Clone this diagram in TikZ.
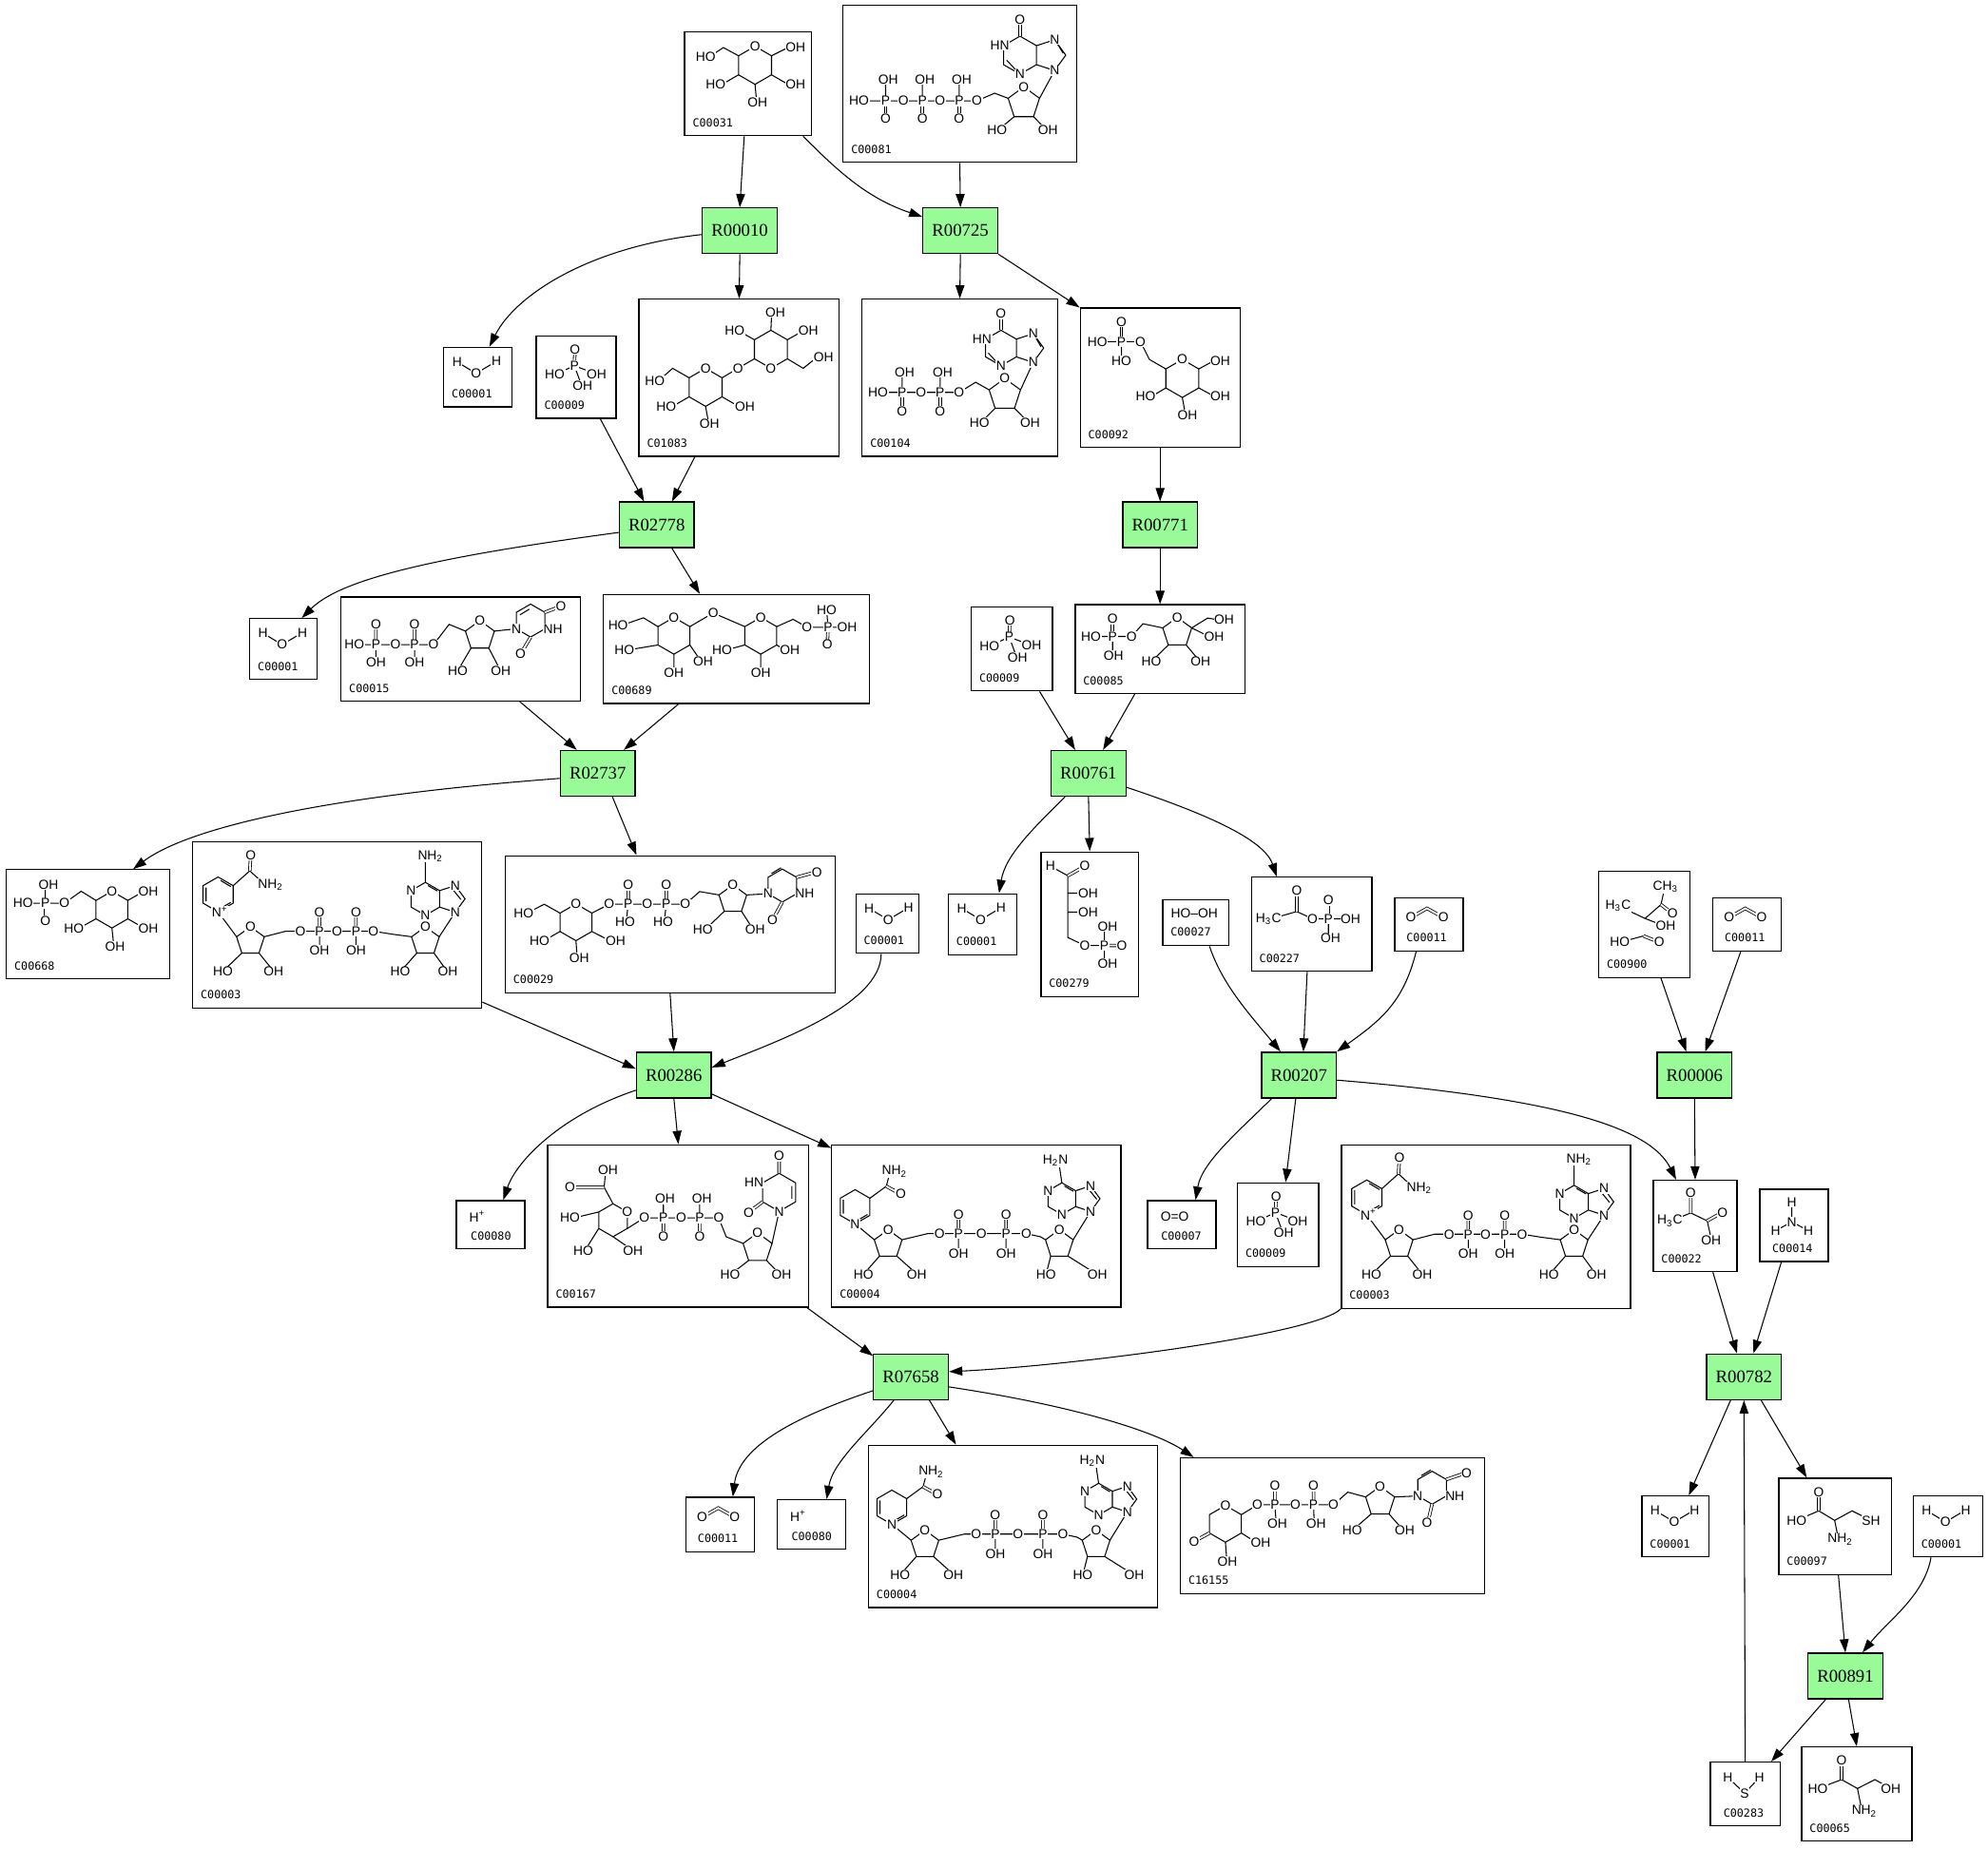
\documentclass[tikz,border=0pt]{standalone}
\usepackage{fontspec}
\setmainfont{Liberation Serif}
\newfontfamily\atomfont{Liberation Sans}
\newfontfamily\idfont{DejaVu Sans Mono}
\usetikzlibrary{arrows.meta}
\definecolor{rgreen}{RGB}{152,251,152}
\tikzset{
  rxn/.style={draw=black, line width=0.55pt, fill=rgreen, minimum width=11.8mm, minimum height=7.2mm, inner sep=0pt, font=\fontsize{8}{9}\selectfont},
  cpd/.style 2 args={draw=black, line width=0.55pt, fill=white, minimum width=#1*0.2mm, minimum height=#2*0.2mm, inner sep=0pt},
  cid/.style={anchor=south west, font=\idfont\fontsize{5}{5}\selectfont, inner sep=0pt, xshift=1.3mm, yshift=1.4mm},
  arr/.style={-{Triangle[length=2.1mm,width=1.4mm]}, line width=0.45pt},
  bond/.style={line width=0.45pt},
  dbl/.style={double, double distance=0.8pt, line width=0.35pt},
  atm/.style={font=\atomfont\fontsize{5.9}{6}\selectfont, inner sep=0.3pt, fill=white},
}
% ring shapes, in box units
\newcommand{\hexa}[3]{\draw[bond] (#1,#2) +(30:#3) -- +(90:#3) -- +(150:#3) -- +(210:#3) -- +(270:#3) -- +(330:#3) -- cycle;}
\newcommand{\penta}[3]{\draw[bond] (#1,#2) +(270:#3) -- +(342:#3) -- +(54:#3) -- +(126:#3) -- +(198:#3) -- cycle;}
\newcommand{\imid}[3]{\draw[bond] (#1,#2) +(0.866*#3,-0.5*#3) -- +(1.817*#3,-0.809*#3) -- +(2.405*#3,0) -- +(1.817*#3,0.809*#3) -- +(0.866*#3,0.5*#3);}
\newcommand{\atm}[3]{\node[atm] at (#1,#2) {#3};}
% small molecules
\newcommand{\wat}[1]{\begin{scope}[shift={(#1.north west)}]
  \draw[bond] (11,12) -- (26,21) -- (42,11.5);
  \atm{11}{12}{H} \atm{26}{21}{O} \atm{42}{11.5}{H}
\end{scope}}
\newcommand{\phos}[1]{\begin{scope}[shift={(#1.north west)}]
  \draw[dbl] (31,11) -- (30.5,24);
  \draw[bond] (15,31) -- (30.5,24) -- (48,30.5) (30.5,24) -- (36,39);
  \atm{31}{11}{O} \atm{30.5}{24}{P} \atm{15}{31}{HO} \atm{48}{30.5}{OH} \atm{37}{40}{OH}
\end{scope}}
\newcommand{\cdo}[1]{\begin{scope}[shift={(#1.north west)}]
  \draw[dbl] (13.25,16.25) -- (26,9) -- (39,16.25);
  \atm{13.25}{16.25}{O} \atm{39}{16.25}{O}
\end{scope}}
\newcommand{\hpl}[1]{\begin{scope}[shift={(#1.north west)}]
  \atm{17}{13}{H\textsuperscript{+}}
\end{scope}}
% NAD+ and NADH
\newcommand{\nadp}[1]{\begin{scope}[shift={(#1.north west)}]
  \hexa{20.5}{42}{13.75} \penta{46}{79}{11.5} \penta{184}{79}{11.5}
  \hexa{184}{45.5}{13} \imid{184}{45.5}{13}
  \draw[bond] (11,36.5) -- (11,47.5) (22.5,31) -- (30.5,35.8) (22.5,53) -- (30.5,48.3) (186,35) -- (193.5,39.3) (205.5,38) -- (212,46);
  \draw[bond] (32.4,35.1) -- (45.5,23.4) -- (57,34) (20.5,55.75) -- (35.1,75.4) (39.2,88.3) -- (26,101) (52.8,88.3) -- (63,101)
    (56.9,75.4) -- (74,71) -- (143,71) -- (158,73.4) -- (173.1,75.4) (100.5,71) -- (100.5,85) (129.25,71) -- (129.25,85)
    (177.2,88.3) -- (166,101) (190.8,88.3) -- (200,101) (194.9,75.4) -- (207.6,56) (184,32.5) -- (184,16);
  \draw[dbl] (45.5,23.4) -- (46.25,11) (100.5,71) -- (100.5,56) (129.25,71) -- (129.25,56);
  \atm{46.25}{11}{O} \atm{62}{34.5}{NH\textsubscript{2}} \atm{22}{55.75}{N\textsuperscript{+}} \atm{46}{67.5}{O}
  \atm{24.25}{103}{HO} \atm{64.25}{103}{OH}
  \atm{85.5}{71}{O} \atm{100.5}{71}{P} \atm{114.25}{71}{O} \atm{129.25}{71}{P} \atm{143}{71}{O}
  \atm{100.5}{56}{O} \atm{129.25}{56}{O} \atm{100.5}{86}{OH} \atm{129.25}{86}{OH}
  \atm{184}{67.5}{O} \atm{164.25}{103}{HO} \atm{201.75}{103}{OH}
  \atm{172.7}{39}{N} \atm{184}{58.5}{N} \atm{207.6}{35}{N} \atm{207.6}{56}{N} \atm{188}{12}{NH\textsubscript{2}}
\end{scope}}
\newcommand{\nadh}[1]{\begin{scope}[shift={(#1.north west)}]
  \hexa{18.9}{49.4}{13.5} \penta{45}{79}{11.5} \penta{180}{79}{11.5}
  \hexa{182}{43}{12.5} \imid{182}{43}{12.5}
  \draw[bond] (9.6,44) -- (9.6,54.8) (21,60) -- (28.7,55.5) (184,33) -- (191,37.2) (203.5,36) -- (209.5,43.5);
  \draw[bond] (30.6,42.65) -- (43.5,33.2) -- (46,24) (18.9,62.9) -- (34.1,75.4) (38.2,88.3) -- (27,101) (51.8,88.3) -- (66,101)
    (55.9,75.4) -- (76,70.6) -- (153.9,70.6) -- (165,73) -- (169.1,75.4) (100.5,70.6) -- (100.5,85.6) (138,70.6) -- (138,85.6)
    (173.2,88.3) -- (170,101) (186.8,88.3) -- (207,101) (190.9,75.4) -- (204.7,53.1) (182,30.5) -- (180,17);
  \draw[dbl] (43.5,33.2) -- (54.9,39.4) (100.5,70.6) -- (100.5,55.6) (138,70.6) -- (138,55.6);
  \atm{50}{21.5}{NH\textsubscript{2}} \atm{54.9}{39.4}{O} \atm{18.9}{62.9}{N} \atm{45}{67.5}{O}
  \atm{25.5}{103}{HO} \atm{67.5}{103}{OH}
  \atm{85.5}{70.6}{O} \atm{100.5}{70.6}{P} \atm{118.5}{70.6}{O} \atm{138}{70.6}{P} \atm{153.9}{70.6}{O}
  \atm{100.5}{55.6}{O} \atm{138}{55.6}{O} \atm{100.5}{86}{OH} \atm{138}{86}{OH}
  \atm{180}{67.5}{O} \atm{169.5}{103}{HO} \atm{210}{103}{OH}
  \atm{171.2}{36.75}{N} \atm{182}{55.5}{N} \atm{204.7}{32.9}{N} \atm{204.7}{53.1}{N} \atm{177}{13}{H\textsubscript{2}N}
\end{scope}}

\begin{document}
\begin{tikzpicture}[x=0.2mm, y=-0.2mm]
  \useasboundingbox (0,0) rectangle (1568,1458);
  % reactions
  \node[rxn] (r010) at (583.5,182) {R00010};
  \node[rxn] (r725) at (757.5,182) {R00725};
  \node[rxn] (r2778) at (518,414) {R02778};
  \node[rxn] (r771) at (915,414) {R00771};
  \node[rxn] (r2737) at (471.5,610) {R02737};
  \node[rxn] (r761) at (858.5,610) {R00761};
  \node[rxn] (r286) at (531.5,848) {R00286};
  \node[rxn] (r207) at (1024.5,848) {R00207};
  \node[rxn] (r006) at (1336.5,848) {R00006};
  \node[rxn] (r7658) at (718.5,1086) {R07658};
  \node[rxn] (r782) at (1375.5,1086) {R00782};
  \node[rxn] (r891) at (1455.5,1322) {R00891};
  % compounds
  \node[cpd={100}{82}, label={[cid]south west:C00031}] (c031) at (590,66) {};
  \node[cpd={184}{124}, label={[cid]south west:C00081}] (c081) at (757,66) {};
  \node[cpd={54}{47}, label={[cid]south west:C00001}] (h2o1) at (377,297.5) {};
  \node[cpd={63}{65}, label={[cid]south west:C00009}] (pi1) at (454.5,297.5) {};
  \node[cpd={158}{124}, label={[cid]south west:C01083}] (c1083) at (583,298) {};
  \node[cpd={154}{124}, label={[cid]south west:C00104}] (c104) at (757,298) {};
  \node[cpd={126}{110}, label={[cid]south west:C00092}] (c092) at (915,298) {};
  \node[cpd={53}{48}, label={[cid]south west:C00001}] (h2o2) at (223.5,512) {};
  \node[cpd={189}{82}, label={[cid]south west:C00015}] (c015) at (363.5,512) {};
  \node[cpd={210}{86}, label={[cid]south west:C00689}] (c689) at (581,512) {};
  \node[cpd={64}{66}, label={[cid]south west:C00009}] (pi2) at (798,512) {};
  \node[cpd={134}{70}, label={[cid]south west:C00085}] (c085) at (915,512) {};
  \node[cpd={129}{86}, label={[cid]south west:C00668}] (c668) at (69.5,729) {};
  \node[cpd={228}{131}, label={[cid]south west:C00003}] (nad1) at (266,729.5) {};
  \node[cpd={260}{108}, label={[cid]south west:C00029}] (c029) at (528.5,729) {};
  \node[cpd={50}{47}, label={[cid]south west:C00001}] (h2o3) at (700,728.5) {};
  \node[cpd={54}{48}, label={[cid]south west:C00001}] (h2o4) at (775,729) {};
  \node[cpd={77}{114}, label={[cid]south west:C00279}] (c279) at (859.5,729) {};
  \node[cpd={52}{36}, label={[cid,yshift=0.2mm]south west:C00027}] (c027) at (943,728) {};
  \node[cpd={95}{74}, label={[cid]south west:C00227}] (c227) at (1034.5,729) {};
  \node[cpd={54}{42}, label={[cid,xshift=0.6mm]south west:C00011}] (co1) at (1127,729) {};
  \node[cpd={72}{84}, label={[cid]south west:C00900}] (c900) at (1297,729) {};
  \node[cpd={54}{42}, label={[cid,xshift=0.6mm]south west:C00011}] (co2) at (1378,729) {};
  \node[cpd={54}{38}, label={[cid,xshift=1mm]south west:C00080}] (hp1) at (387,966) {};
  \node[cpd={206}{128}, label={[cid]south west:C00167}] (c167) at (535,967) {};
  \node[cpd={228}{128}, label={[cid]south west:C00004}] (nadh1) at (770,967) {};
  \node[cpd={54}{38}, label={[cid,xshift=0.9mm]south west:C00007}] (o2) at (932,966) {};
  \node[cpd={64}{66}, label={[cid]south west:C00009}] (pi3) at (1008,966) {};
  \node[cpd={228}{129}, label={[cid]south west:C00003}] (nad2) at (1172,967.5) {};
  \node[cpd={66}{72}, label={[cid]south west:C00022}] (c022) at (1337,967) {};
  \node[cpd={54}{57}, label={[cid,xshift=0.7mm]south west:C00014}] (nh3) at (1415,966.5) {};
  \node[cpd={54}{43}, label={[cid,xshift=0.6mm]south west:C00011}] (co3) at (568,1202.5) {};
  \node[cpd={54}{39}, label={[cid,xshift=1mm]south west:C00080}] (hp2) at (640,1202.5) {};
  \node[cpd={228}{128}, label={[cid]south west:C00004}] (nadh2) at (799,1204) {};
  \node[cpd={240}{107}, label={[cid]south west:C16155}] (c16155) at (1051,1203.5) {};
  \node[cpd={53}{48}, label={[cid]south west:C00001}] (h2o5) at (1321.5,1204) {};
  \node[cpd={89}{76}, label={[cid]south west:C00097}] (c097) at (1447.5,1204) {};
  \node[cpd={55}{48}, label={[cid]south west:C00001}] (h2o6) at (1536.5,1204) {};
  \node[cpd={55}{50}, label={[cid,xshift=0.8mm]south west:C00283}] (h2s) at (1376.5,1415) {};
  \node[cpd={87}{74}, label={[cid]south west:C00065}] (c065) at (1464.5,1415) {};

  % structures
  \wat{h2o1} \wat{h2o2} \wat{h2o3} \wat{h2o4} \wat{h2o5} \wat{h2o6}
  \phos{pi1} \phos{pi2} \phos{pi3}
  \cdo{co1} \cdo{co2} \cdo{co3}
  \hpl{hp1} \hpl{hp2}
  \nadp{nad1} \nadp{nad2}
  \nadh{nadh1} \nadh{nadh2}
  \begin{scope}[shift={(c031.north west)}]
    \hexa{56}{27}{15}
    \draw[bond] (43,19.5) -- (31,13) -- (22,19) (69,19.5) -- (82,13) (69,34.5) -- (82,42) (43,34.5) -- (30,42) (56,42) -- (57,53);
    \atm{56}{12}{O} \atm{17}{20}{HO} \atm{88}{13}{OH} \atm{88}{42}{OH} \atm{25}{42}{HO} \atm{58}{56}{OH}
  \end{scope}
  \begin{scope}[shift={(c081.north west)}]
    \penta{143}{78}{13} \hexa{140}{40}{15} \imid{140}{40}{15}
    \draw[bond] (14,76) -- (106,76) -- (120,70) -- (130.6,74) (34,76) -- (34,60) (63,76) -- (63,60) (92,76) -- (92,60)
      (135.4,88.5) -- (124,98) (150.6,88.5) -- (160,98) (155.4,74) -- (167.3,52.1) (129.5,44) -- (137,52) (169.5,31) -- (174,38.5);
    \draw[dbl] (34,76) -- (34,90) (63,76) -- (63,90) (92,76) -- (92,90) (140,25) -- (140,12);
    \atm{13}{76}{HO} \atm{34}{76}{P} \atm{48}{76}{O} \atm{63}{76}{P} \atm{77}{76}{O} \atm{92}{76}{P} \atm{106}{76}{O}
    \atm{36}{59}{OH} \atm{65}{59}{OH} \atm{94}{59}{OH} \atm{34}{90}{O} \atm{63}{90}{O} \atm{92}{90}{O}
    \atm{143}{65}{O} \atm{122}{99}{HO} \atm{162}{99}{OH}
    \atm{140}{12}{O} \atm{124}{32.5}{HN} \atm{140}{55}{N} \atm{167.3}{27.9}{N} \atm{167.3}{52.1}{N}
  \end{scope}
  \begin{scope}[shift={(c1083.north west)}]
    \hexa{53}{70}{15} \hexa{104.5}{40}{15}
    \draw[bond] (40,62.5) -- (27,55) -- (18,63) (40,77.5) -- (27,85) (66,77.5) -- (79,85) (53,85) -- (55,96)
      (66,62.5) -- (78.5,55) -- (91.5,47.5) (91.5,32.5) -- (80,26) (104.5,25) -- (105,14) (117.5,32.5) -- (129,26) (117.5,47.5) -- (130,55) -- (140,47);
    \atm{53}{55}{O} \atm{104.5}{55}{O} \atm{78.5}{55}{O} \atm{13}{65}{HO} \atm{22}{85}{HO} \atm{84}{85}{OH} \atm{56}{99}{OH}
    \atm{76}{25}{HO} \atm{108}{11}{OH} \atm{134}{25}{OH} \atm{146}{46}{OH}
  \end{scope}
  \begin{scope}[shift={(c104.north west)}]
    \penta{113}{76}{13} \hexa{110}{39}{14} \imid{110}{39}{14}
    \draw[bond] (13,74) -- (77,74) -- (90,66) -- (100.6,72) (32,74) -- (32,59) (62,74) -- (62,59)
      (105.4,86.5) -- (95,97) (120.6,86.5) -- (131,97) (125.4,72) -- (135.4,50.3) (100,43) -- (107,50.5) (137.5,31) -- (141.5,38);
    \draw[dbl] (32,74) -- (32,89) (62,74) -- (62,89) (110,25) -- (110,12);
    \atm{13}{74}{HO} \atm{32}{74}{P} \atm{47}{74}{O} \atm{62}{74}{P} \atm{77}{74}{O}
    \atm{34}{58}{OH} \atm{64}{58}{OH} \atm{32}{89}{O} \atm{62}{89}{O}
    \atm{113}{63}{O} \atm{93}{98}{HO} \atm{133}{98}{OH}
    \atm{110}{12}{O} \atm{95}{32}{HN} \atm{110}{53}{N} \atm{135.4}{27.7}{N} \atm{135.4}{50.3}{N}
  \end{scope}
  \begin{scope}[shift={(c092.north west)}]
    \hexa{81}{56}{15}
    \draw[bond] (14,27) -- (48,27) -- (55,41) -- (68,48.5) (33,27) -- (33,42) (94,48.5) -- (106,42) (94,63.5) -- (106,70) (68,63.5) -- (57,70) (81,71) -- (83,82);
    \draw[dbl] (33,27) -- (33,11.5);
    \atm{14}{27}{HO} \atm{33}{27}{P} \atm{48}{27}{O} \atm{33}{11.5}{O} \atm{33}{42}{HO} \atm{81}{41}{O}
    \atm{111}{42}{OH} \atm{111}{70}{OH} \atm{52}{70}{HO} \atm{85}{85}{OH}
  \end{scope}
  \begin{scope}[shift={(c085.north west)}]
    \penta{81}{22.5}{12}
    \draw[bond] (13,25.5) -- (45,25.5) -- (54,15.5) -- (69.6,18.8) (30,25.5) -- (30,40.5) (92.4,18.8) -- (105,11) -- (114,12.5)
      (92.4,18.8) -- (105,25) (74,32.2) -- (63,43) (88,32.2) -- (97,43);
    \draw[dbl] (30,25.5) -- (30,11.8);
    \atm{13}{25.5}{HO} \atm{30}{25.5}{P} \atm{45}{25.5}{O} \atm{30}{11.8}{O} \atm{30.7}{40.5}{OH} \atm{81}{10.5}{O}
    \atm{118}{12.5}{OH} \atm{110}{25.5}{OH} \atm{60.6}{45.5}{HO} \atm{99.4}{45.5}{OH}
  \end{scope}
  \begin{scope}[shift={(c015.north west)}]
    \penta{110}{31}{12} \hexa{150}{19}{13}
    \draw[bond] (11,38) -- (73.4,38) -- (85.7,22) -- (98.6,27.3) (28,38) -- (28,51.6) (58.5,38) -- (58.5,51.6)
      (103,40.7) -- (94,56) (117,40.7) -- (125,56) (121.4,27.3) -- (138.7,25.5) (141.5,14.5) -- (149,10);
    \draw[dbl] (28,38) -- (28,21.7) (58.5,38) -- (58.5,21.7) (161.3,12.5) -- (173,8) (150,32) -- (143,44);
    \atm{11}{38}{HO} \atm{28}{38}{P} \atm{43.5}{38}{O} \atm{58.5}{38}{P} \atm{73.4}{38}{O}
    \atm{28}{21.7}{O} \atm{58.5}{21.7}{O} \atm{28}{52}{OH} \atm{58.5}{52}{OH}
    \atm{110}{19}{O} \atm{92.5}{58.4}{HO} \atm{126.5}{58.4}{OH}
    \atm{138.7}{25.5}{N} \node[atm,anchor=west] at (159.3,25.5) {NH}; \atm{174}{8}{O} \atm{142}{45}{O}
  \end{scope}
  \begin{scope}[shift={(c689.north west)}]
    \hexa{56}{33}{14.5} \hexa{124.5}{33}{14.5}
    \draw[bond] (43.4,25.75) -- (32,18.8) -- (17,24) (43.4,40.25) -- (21,44) (56,47.5) -- (56,59) (68.6,40.25) -- (76,51)
      (68.6,25.75) -- (87,15) -- (111.9,25.75) (111.9,40.25) -- (98,44) (124.5,47.5) -- (124.5,59) (137.1,40.25) -- (143,44)
      (137.1,25.75) -- (150,20) -- (161,26.3) -- (192.6,26.3) (177.6,26.3) -- (176.5,13);
    \draw[dbl] (177.6,26.3) -- (177,40);
    \atm{56}{18.5}{O} \atm{124.5}{18.5}{O} \atm{12}{25}{HO} \atm{17}{44}{HO} \atm{56}{62}{OH} \atm{79}{53}{OH} \atm{87}{15}{O}
    \atm{94}{44}{HO} \atm{124.5}{62}{OH} \atm{147.4}{44}{OH}
    \atm{161}{26.3}{O} \atm{177.6}{26.3}{P} \atm{176.5}{12.5}{HO} \atm{192.6}{26.3}{OH} \atm{177}{40}{O}
  \end{scope}
  \begin{scope}[shift={(c668.north west)}]
    \hexa{83.75}{32}{14.5}
    \draw[bond] (13.75,27) -- (46.25,27) -- (59.5,17.5) -- (71.2,24.75) (31.25,27) -- (31.25,14) (96.3,24.75) -- (109,17.5)
      (96.3,39.25) -- (109,46.5) (71.2,39.25) -- (58,46.5) (83.75,46.5) -- (85,58);
    \draw[dbl] (31.25,27) -- (31.25,41);
    \atm{13.75}{27}{HO} \atm{31.25}{27}{P} \atm{46.25}{27}{O} \atm{33.75}{12.5}{OH} \atm{31.25}{41}{O}
    \atm{83.75}{17.5}{O} \atm{112.5}{17.5}{OH} \atm{112.5}{46.75}{OH} \atm{53.75}{46.75}{HO} \atm{86.25}{61.25}{OH}
  \end{scope}
  \begin{scope}[shift={(c029.north west)}]
    \hexa{56.25}{53}{14.5} \penta{180}{35}{11.5} \hexa{219}{24}{13}
    \draw[bond] (43.7,45.75) -- (31.25,38.75) -- (19,45) (43.7,60.25) -- (31,67.5) (68.8,60.25) -- (83,67.5) (56.25,67.5) -- (57,78)
      (68.8,45.75) -- (82.5,38.75) -- (142.5,38.75) -- (153.75,28.75) -- (169.1,31.4) (97.5,38.75) -- (96,51) (127.5,38.75) -- (126,51)
      (173.2,44.3) -- (160,57) (186.8,44.3) -- (195,57) (190.9,31.4) -- (207.7,30.5) (210.5,14.5) -- (218,10);
    \draw[dbl] (97.5,38.75) -- (97.5,23.75) (127.5,38.75) -- (127.5,23.75) (230.3,17.5) -- (244,13.75) (219,37) -- (212,50);
    \atm{56.25}{38.5}{O} \atm{15}{46.25}{HO} \atm{27.5}{67.5}{HO} \atm{87.5}{67.5}{OH} \atm{58.75}{81.25}{OH}
    \atm{82.5}{38.75}{O} \atm{97.5}{38.75}{P} \atm{112.5}{38.75}{O} \atm{127.5}{38.75}{P} \atm{142.5}{38.75}{O}
    \atm{97.5}{23.75}{O} \atm{127.5}{23.75}{O} \atm{95}{52.5}{HO} \atm{125}{52.5}{HO}
    \atm{180}{23.5}{O} \atm{156.25}{58.75}{HO} \atm{197.5}{58.75}{OH}
    \atm{207.7}{30.5}{N} \node[atm,anchor=west] at (228.3,30.5) {NH}; \atm{246.25}{13.75}{O} \atm{211.25}{51.25}{O}
  \end{scope}
  \begin{scope}[shift={(c279.north west)}]
    \draw[bond] (8,11.75) -- (21.75,19.25) -- (21.75,68) -- (35,74.25) -- (50.5,74.25) (21.75,33) -- (30,33) (21.75,48) -- (30,48)
      (50.5,74.25) -- (50.5,61) (50.5,74.25) -- (50.5,87);
    \draw[dbl] (21.75,19.25) -- (35,11.75) (50.5,74.25) -- (64.25,74.25);
    \atm{8}{11.75}{H} \atm{35}{11.75}{O} \node[atm,anchor=west] at (29,33) {OH}; \node[atm,anchor=west] at (29,48) {OH};
    \atm{35}{74.25}{O} \atm{50.5}{74.25}{P} \atm{53}{59.25}{OH} \atm{64.25}{74.25}{O} \atm{53}{88.5}{OH}
  \end{scope}
  \begin{scope}[shift={(c027.north west)}]
    \atm{25.5}{10.75}{HO\textendash OH}
  \end{scope}
  \begin{scope}[shift={(c227.north west)}]
    \draw[bond] (16.25,33.25) -- (36.25,27.5) -- (48.75,33.25) -- (78.75,33.25) (61.25,33.25) -- (61.25,47);
    \draw[dbl] (36.25,27.5) -- (36.25,11.25) (61.25,33.25) -- (61.25,18.75);
    \atm{14}{33.25}{H\textsubscript{3}C} \atm{36.25}{11.25}{O} \atm{48.75}{33.25}{O} \atm{61.25}{33.25}{P} \atm{61.25}{18.75}{O}
    \atm{78.75}{33.25}{OH} \atm{63}{48.75}{OH}
  \end{scope}
  \begin{scope}[shift={(c900.north west)}]
    \draw[bond] (18,29) -- (37,38) -- (49.5,27) -- (52,16) (37,38) -- (50,43) (20,56) -- (35.75,51.75);
    \draw[dbl] (49.5,27) -- (58.75,34.25) (35.75,51.75) -- (48.25,56.75);
    \atm{15.75}{28}{H\textsubscript{3}C} \atm{53.25}{13}{CH\textsubscript{3}} \atm{58.75}{34.25}{O} \atm{53.25}{43.5}{OH}
    \atm{17}{56.75}{HO} \atm{48.25}{56.75}{O}
  \end{scope}
  \begin{scope}[shift={(o2.north west)}]
    \atm{22}{13}{O=O}
  \end{scope}
  \begin{scope}[shift={(c167.north west)}]
    \hexa{52}{60}{13} \penta{166}{82}{12} \hexa{183}{38}{15}
    \draw[bond] (52,47) -- (45,34) -- (46,23) (40.7,53.5) -- (22,58) (40.7,66.5) -- (31,82) (52,73) -- (65,82)
      (63.3,66.5) -- (76.7,58.1) -- (135.3,58.1) -- (141.3,73.1) -- (154.6,78.3) (91.7,58.1) -- (91.7,44) (120.3,58.1) -- (120.3,44)
      (159,91.7) -- (147,101) (173,91.7) -- (182,101) (177.4,78.3) -- (183,53) (193,33) -- (193,43);
    \draw[dbl] (45,34) -- (19,34) (91.7,58.1) -- (91.7,73.1) (120.3,58.1) -- (120.3,73.1) (183,23) -- (183,10) (170,45.5) -- (160,53);
    \atm{18}{34}{O} \atm{48}{20.7}{OH} \atm{63.3}{53.5}{O} \atm{18}{58}{HO} \atm{28.6}{84.3}{HO} \atm{67.7}{84.3}{OH}
    \atm{76.7}{58.1}{O} \atm{91.7}{58.1}{P} \atm{105.8}{58.1}{O} \atm{120.3}{58.1}{P} \atm{135.3}{58.1}{O}
    \atm{93}{43.2}{OH} \atm{122}{43.2}{OH} \atm{91.7}{73.1}{O} \atm{120.3}{73.1}{O}
    \atm{166}{70}{O} \atm{144.3}{103}{HO} \atm{184.9}{103}{OH}
    \atm{183}{53}{N} \node[atm,anchor=east] at (171.5,30.5) {HN}; \atm{183}{9.5}{O} \atm{159}{54}{O}
  \end{scope}
  \begin{scope}[shift={(c022.north west)}]
    \draw[bond] (16,32) -- (30,26.25) -- (43,32.5) -- (46,46);
    \draw[dbl] (30,26.25) -- (30,10) (43,32.5) -- (55,25.75);
    \atm{30}{10}{O} \atm{13.5}{32.5}{H\textsubscript{3}C} \atm{55}{25.75}{O} \atm{46}{47.5}{OH}
  \end{scope}
  \begin{scope}[shift={(nh3.north west)}]
    \draw[bond] (25.75,10.75) -- (25.75,26.25) -- (13,33.25) (25.75,26.25) -- (38.75,33.25);
    \atm{25.75}{10.75}{H} \atm{25.75}{26.25}{N} \atm{13}{33.25}{H} \atm{38.75}{33.25}{H}
  \end{scope}
  \begin{scope}[shift={(c16155.north west)}]
    \hexa{36}{52.5}{14.5} \penta{158}{35}{12} \hexa{199}{24}{13}
    \draw[bond] (36,67) -- (37,80) (48.56,59.75) -- (60,67) (48.56,45.25) -- (61.25,37.5) -- (121.25,37.5) -- (132.5,27.5) -- (146.6,31.3)
      (75,37.5) -- (76,51) (105.5,37.5) -- (106,51) (151,44.7) -- (138,56) (165,44.7) -- (175,56) (169.4,31.3) -- (187.7,30.5)
      (190.5,14.5) -- (198,10);
    \draw[dbl] (23.44,59.75) -- (12,66) (75,37.5) -- (75,22.5) (105.5,37.5) -- (105.5,22.5) (210.3,17.5) -- (225,12.5) (199,37) -- (196,50);
    \atm{36}{38}{O} \atm{11.25}{66.25}{O} \atm{37.5}{82.5}{OH} \atm{63.75}{67.5}{OH}
    \atm{61.25}{37.5}{O} \atm{75}{37.5}{P} \atm{91.25}{37.5}{O} \atm{105.5}{37.5}{P} \atm{121.25}{37.5}{O}
    \atm{75}{22.5}{O} \atm{105.5}{22.5}{O} \atm{77}{52}{OH} \atm{107.5}{52}{OH}
    \atm{158}{23}{O} \atm{136}{57.5}{HO} \atm{177.5}{57.5}{OH}
    \atm{187.7}{30.5}{N} \node[atm,anchor=west] at (208.6,30.5) {NH}; \atm{226.25}{12.5}{O} \atm{195}{51.25}{O}
  \end{scope}
  \begin{scope}[shift={(c097.north west)}]
    \draw[bond] (14.5,33.75) -- (32,26.25) -- (44.5,33.75) -- (58.25,26.25) -- (73.25,33.75) (44.5,33.75) -- (47,46);
    \draw[dbl] (32,26.25) -- (32,11.25);
    \atm{32}{11.25}{O} \atm{14.5}{33.75}{HO} \atm{73.25}{33.75}{SH} \atm{49}{48.75}{NH\textsubscript{2}}
  \end{scope}
  \begin{scope}[shift={(c065.north west)}]
    \draw[bond] (13.25,33.25) -- (32,26.25) -- (44.5,33.25) -- (58.25,26.25) -- (70.75,33.25) (44.5,33.25) -- (47.5,48);
    \draw[dbl] (32,26.25) -- (32,11.25);
    \atm{32}{11.25}{O} \atm{13.25}{33.25}{HO} \atm{70.75}{33.25}{OH} \atm{50}{51.25}{NH\textsubscript{2}}
  \end{scope}
  \begin{scope}[shift={(h2s.north west)}]
    \draw[bond] (14.25,12.5) -- (27.5,25) -- (39.25,12.5);
    \atm{14.25}{12.5}{H} \atm{27.5}{25}{S} \atm{39.25}{12.5}{H}
  \end{scope}

  % connectors
  \draw[arr] ([xshift=-0.6mm]c031.south) -- (r010.north);
  \draw[arr] ([xshift=-1.4mm]c031.south east) .. controls +(25,25) and +(-45,-15) .. ([yshift=2.2mm]r725.west);
  \draw[arr] (c081.south) -- (r725.north);
  \draw[arr] ([yshift=-0.6mm]r010.west) .. controls +(-90,10) and +(20,-40) .. ([xshift=1.8mm]h2o1.north);
  \draw[arr] (r010.south) -- (c1083.north);
  \draw[arr] (r725.south) -- (c104.north);
  \draw[arr] (r725.south east) -- (c092.north west);
  \draw[arr] ([xshift=3.8mm]pi1.south) -- ([xshift=-2mm]r2778.north);
  \draw[arr] ([xshift=-7mm]c1083.south) -- ([xshift=2.4mm]r2778.north);
  \draw[arr] (c092.south) -- (r771.north);
  \draw[arr] ([yshift=-1.2mm]r2778.west) .. controls +(-150,20) and +(30,-30) .. ([xshift=2.9mm]h2o2.north);
  \draw[arr] ([xshift=2.4mm]r2778.south) -- ([xshift=-5.8mm]c689.north);
  \draw[arr] ([xshift=9.3mm]c015.south) -- ([xshift=-3.3mm]r2737.north);
  \draw[arr] ([xshift=-9.2mm]c689.south) -- ([xshift=4.1mm]r2737.north);
  \draw[arr] (r771.south) -- (c085.north);
  \draw[arr] ([xshift=4.4mm]pi2.south) -- ([xshift=-2.1mm]r761.north);
  \draw[arr] ([xshift=-4mm]c085.south) -- ([xshift=2.3mm]r761.north);
  \draw[arr] ([yshift=-0.8mm]r2737.west) .. controls +(-200,15) and +(40,-30) .. ([xshift=7.1mm]c668.north);
  \draw[arr] ([xshift=2.3mm]r2737.south) -- ([xshift=-5.3mm]c029.north);
  \draw[arr] ([yshift=1mm]nad1.south east) -- ([yshift=1mm]r286.west);
  \draw[arr] (c029.south) -- (r286.north);
  \draw[arr] ([xshift=-1mm]h2o3.south) .. controls +(0,40) and +(50,-20) .. ([yshift=1.2mm]r286.east);
  \draw[arr] ([xshift=-3.7mm]r761.south) .. controls +(-25,25) and +(5,-30) .. ([xshift=2.6mm]h2o4.north);
  \draw[arr] (r761.south) -- (c279.north);
  \draw[arr] ([yshift=-2.2mm]r761.east) .. controls +(60,20) and +(-10,-30) .. ([xshift=-5.5mm]c227.north);
  \draw[arr] ([xshift=2.2mm]c027.south) .. controls +(10,30) and +(-25,-30) .. ([xshift=-2.9mm]r207.north);
  \draw[arr] ([xshift=-0.7mm]c227.south) -- ([xshift=0.7mm]r207.north);
  \draw[arr] ([xshift=-2mm]co1.south) .. controls +(-10,40) and +(35,-25) .. (r207.north east);
  \draw[arr] ([xshift=2.6mm]c900.south) -- ([xshift=-1.3mm]r006.north);
  \draw[arr] ([xshift=-1mm]co2.south) -- ([xshift=1.7mm]r006.north);
  \draw[arr] ([yshift=-2.4mm]r286.west) .. controls +(-60,20) and +(10,-30) .. ([xshift=2mm]hp1.north);
  \draw[arr] (r286.south) -- (c167.north);
  \draw[arr] ([yshift=-3mm]r286.east) -- ([yshift=-0.6mm]nadh1.north west);
  \draw[arr] ([xshift=-4.3mm]r207.south) .. controls +(-25,25) and +(5,-30) .. ([xshift=2.2mm]o2.north);
  \draw[arr] ([xshift=-0.5mm]r207.south) -- ([xshift=1.2mm]pi3.north);
  \draw[arr] ([yshift=-0.8mm]r207.east) .. controls +(180,15) and +(-20,-40) .. ([xshift=-3mm]c022.north);
  \draw[arr] (r006.south) -- (c022.north);
  \draw[arr] ([xshift=-0.4mm]c167.south east) -- ([yshift=-0.4mm]r7658.north west);
  \draw[arr] (nad2.south west) .. controls +(-20,20) and +(100,-5) .. ([yshift=0.8mm]r7658.east);
  \draw[arr] ([xshift=2.8mm]c022.south) -- ([xshift=-1.1mm]r782.north);
  \draw[arr] ([xshift=-2mm]nh3.south) -- ([xshift=1.5mm]r782.north);
  \draw[arr] ([yshift=-2.2mm]r7658.west) .. controls +(-60,20) and +(5,-40) .. ([xshift=2mm]co3.north);
  \draw[arr] ([xshift=-2.7mm]r7658.south) .. controls +(-20,25) and +(5,-30) .. ([xshift=2.4mm]hp2.north);
  \draw[arr] ([xshift=2.9mm]r7658.south) -- ([xshift=-9mm]nadh2.north);
  \draw[arr] ([yshift=-1.6mm]r7658.east) .. controls +(100,15) and +(-30,-20) .. ([xshift=2.2mm]c16155.north west);
  \draw[arr] ([xshift=-2.1mm]r782.south) -- ([xshift=2.1mm]h2o5.north);
  \draw[arr] ([xshift=2.7mm]r782.south) -- ([xshift=-4.5mm]c097.north);
  \draw[arr] ([xshift=0.5mm]c097.south) -- (r891.north);
  \draw[arr] ([xshift=-2.7mm]h2o6.south) .. controls +(-5,30) and +(20,-25) .. ([xshift=2.7mm]r891.north);
  \draw[arr] ([xshift=-3.1mm]r891.south) -- ([xshift=4.1mm]h2s.north);
  \draw[arr] ([xshift=0.5mm]r891.south) -- (c065.north);
  \draw[arr] (h2s.north) -- (r782.south);
\end{tikzpicture}
\end{document}
